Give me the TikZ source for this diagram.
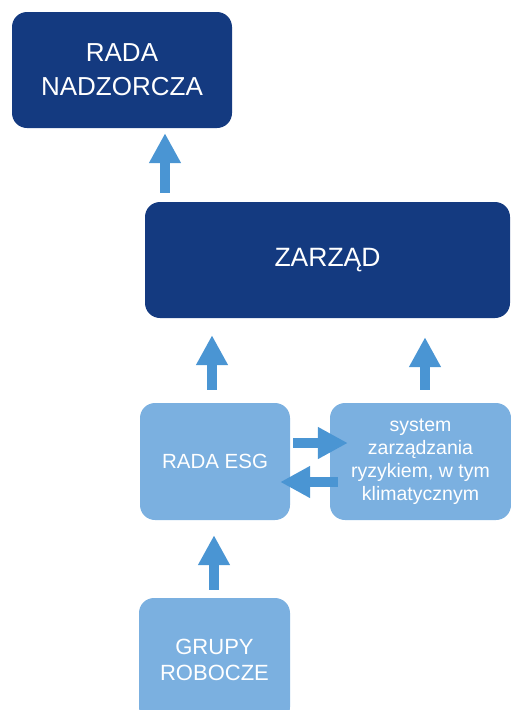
\documentclass[tikz,border=0pt]{standalone}
\usepackage{fontspec}
\setmainfont{Liberation Sans}
\usetikzlibrary{arrows.meta,calc}
\definecolor{navy}{HTML}{143A80}
\definecolor{lightblue}{HTML}{7BB0E0}
\definecolor{arrowblue}{HTML}{4A95D3}

\begin{document}
\begin{tikzpicture}[
      x=1pt, y=-1pt,
      darkbox/.style={rectangle, fill=navy, text=white, rounded corners=15pt, align=center, inner sep=0pt},
      lightbox/.style={rectangle, fill=lightblue, text=white, rounded corners=15pt, align=center, inner sep=0pt},
      arr/.style={-{Triangle[width=30pt, length=30pt]}, line width=10.5pt, draw=arrowblue}
  ]
    \useasboundingbox (0,0) rectangle (511,710);
    \node[darkbox, minimum width=220pt, minimum height=116pt, font=\fontsize{26}{34}\selectfont] (rada) at (122,70) {RADA\\NADZORCZA};
    \node[darkbox, minimum width=365pt, minimum height=116pt, font=\fontsize{26.5}{32}\selectfont] (zarzad) at (327.5,260) {ZARZĄD};
    \node[lightbox, minimum width=150pt, minimum height=117pt, font=\fontsize{20.5}{24}\selectfont] (esg) at (215,461.5) {RADA ESG};
    \node[lightbox, minimum width=181pt, minimum height=117pt, font=\fontsize{19.5}{23}\selectfont] (ryzyko) at (420.5,461.5) {system\\zarządzania\\ryzykiem, w tym\\klimatycznym};
    \node[lightbox, minimum width=151pt, minimum height=124pt, font=\fontsize{22}{26}\selectfont] (grupy) at (214.5,660) {GRUPY\\ROBOCZE};
    % arrows
    \draw[arr] ($(zarzad.north -| 165,0)+(0,-9)$) -- ($(rada.south -| 165,0)+(0,5)$);
    \draw[arr] ($(esg.north -| 212,0)+(0,-13)$) -- ($(zarzad.south -| 212,0)+(0,17)$);
    \draw[arr] ($(ryzyko.north -| 425,0)+(0,-13)$) -- ($(zarzad.south -| 425,0)+(0,19)$);
    \draw[arr] ($(grupy.north -| 214,0)+(0,-8)$) -- ($(esg.south -| 214,0)+(0,15)$);
    \draw[arr] ($(esg.east |- 0,443)+(3,0)$) -- ($(ryzyko.west |- 0,443)+(18,0)$);
    \draw[arr] ($(ryzyko.west |- 0,482)+(8,0)$) -- ($(esg.east |- 0,482)+(-10,0)$);
  \end{tikzpicture}
\end{document}
